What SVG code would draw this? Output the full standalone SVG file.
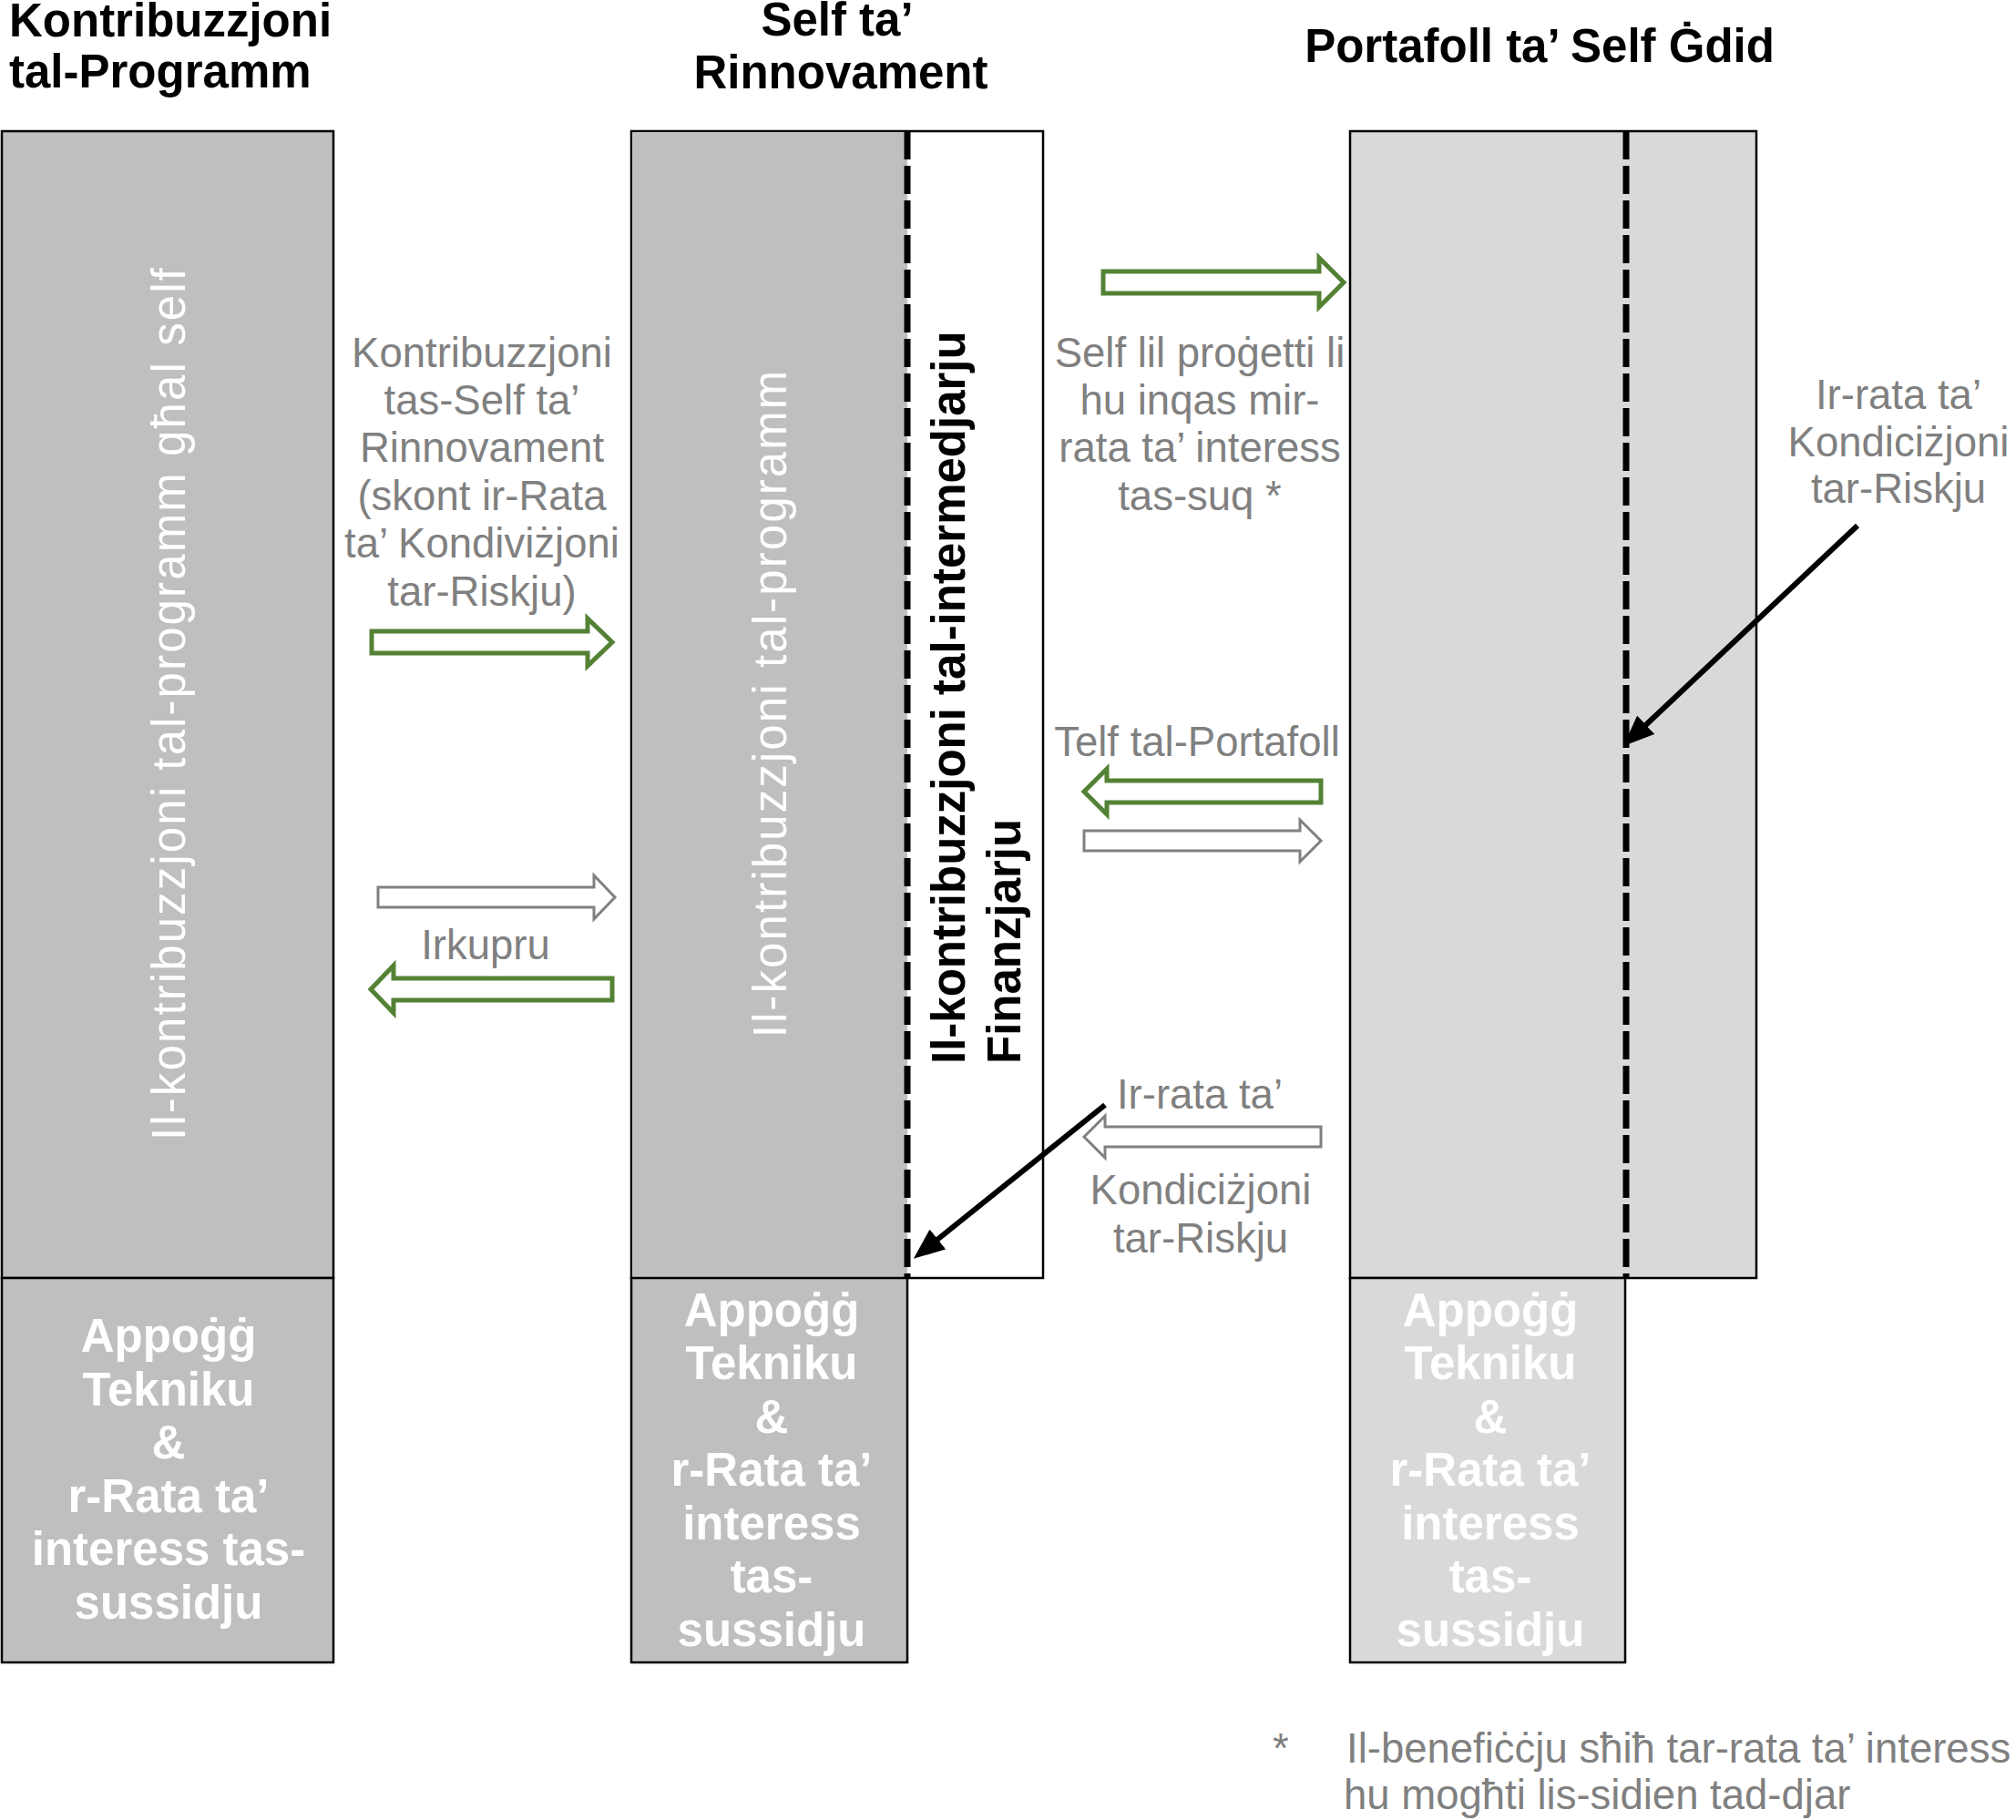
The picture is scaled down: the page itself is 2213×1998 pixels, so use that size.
<svg xmlns="http://www.w3.org/2000/svg" width="2213" height="1998" viewBox="0 0 2213 1998">
<defs>
<style>
.title{font-family:"Liberation Sans",Arial,sans-serif;font-weight:bold;font-size:51px;fill:#000}
.box{stroke:#000;stroke-width:2.5}
.dark{fill:#bfbfbf}
.light{fill:#d9d9d9}
.white{fill:#fff}
.vw{font-family:"Liberation Sans",Arial,sans-serif;font-size:51px;fill:#fff;letter-spacing:2.1px}
.vb{font-family:"Liberation Sans",Arial,sans-serif;font-weight:bold;font-size:51px;fill:#000}
.bt{font-family:"Liberation Sans",Arial,sans-serif;font-weight:bold;font-size:51px;fill:#fff;text-anchor:middle}
.gt{font-family:"Liberation Sans",Arial,sans-serif;font-size:45.5px;fill:#808080;text-anchor:middle}
.ft{font-family:"Liberation Sans",Arial,sans-serif;font-size:45.5px;fill:#808080}
.dash{stroke:#000;stroke-width:7;stroke-dasharray:31 7;fill:none}
.ga{fill:#fff;stroke:#548235;stroke-width:5}
.ya{fill:#fff;stroke:#808080;stroke-width:3}
.ln{stroke:#000;stroke-width:6;fill:none}
</style>
<marker id="ah" markerUnits="userSpaceOnUse" viewBox="0 0 34 28" refX="12" refY="14" markerWidth="34" markerHeight="28" orient="auto">
<path d="M0,0 L34,14 L0,28 z" fill="#000"/>
</marker>
</defs>
<rect width="2213" height="1998" fill="#fff"/>

<g id="titles">
<text class="title" x="10" y="40">Kontribuzzjoni</text>
<text class="title" x="10" y="96">tal-Programm</text>
<text class="title" x="919" y="39" text-anchor="middle">Self ta’</text>
<text class="title" x="923" y="97" text-anchor="middle">Rinnovament</text>
<text class="title" x="1690" y="68" text-anchor="middle">Portafoll ta’ Self Ġdid</text>
</g>

<g id="node-left">
<rect class="box dark" x="2" y="144" width="364" height="1259"/>
<text class="vw" transform="translate(203,772) rotate(-90)" text-anchor="middle">Il-kontribuzzjoni tal-programm għal self</text>
</g>
<g id="node-left-bottom">
<rect class="box dark" x="2" y="1403" width="364" height="422"/>
<text class="bt" x="185" y="1484">Appoġġ</text>
<text class="bt" x="185" y="1543">Tekniku</text>
<text class="bt" x="185" y="1601">&amp;</text>
<text class="bt" x="185" y="1660">r-Rata ta’</text>
<text class="bt" x="185" y="1718">interess tas-</text>
<text class="bt" x="185" y="1777">sussidju</text>
</g>

<g id="node-middle">
<rect class="box white" x="693" y="144" width="452" height="1259"/>
<rect class="dark" x="694.5" y="145.5" width="301.5" height="1256"/>
<line class="dash" x1="996" y1="144" x2="996" y2="1403"/>
<text class="vw" transform="translate(863,772) rotate(-90)" text-anchor="middle">Il-kontribuzzjoni tal-programm</text>
<text class="vb" transform="translate(1059,1168) rotate(-90)">Il-kontribuzzjoni tal-intermedjarju</text>
<text class="vb" transform="translate(1120,1168) rotate(-90)">Finanzjarju</text>
</g>
<g id="node-middle-bottom">
<rect class="box dark" x="693" y="1403" width="303" height="422"/>
<text class="bt" x="847" y="1456">Appoġġ</text>
<text class="bt" x="847" y="1514">Tekniku</text>
<text class="bt" x="847" y="1573">&amp;</text>
<text class="bt" x="847" y="1631">r-Rata ta’</text>
<text class="bt" x="847" y="1690">interess</text>
<text class="bt" x="847" y="1748">tas-</text>
<text class="bt" x="847" y="1807">sussidju</text>
</g>

<g id="node-right">
<rect class="box light" x="1482" y="144" width="446" height="1259"/>
<line class="dash" x1="1785" y1="144" x2="1785" y2="1403"/>
</g>
<g id="node-right-bottom">
<rect class="box light" x="1482" y="1403" width="302" height="422"/>
<text class="bt" x="1636" y="1456">Appoġġ</text>
<text class="bt" x="1636" y="1514">Tekniku</text>
<text class="bt" x="1636" y="1573">&amp;</text>
<text class="bt" x="1636" y="1631">r-Rata ta’</text>
<text class="bt" x="1636" y="1690">interess</text>
<text class="bt" x="1636" y="1748">tas-</text>
<text class="bt" x="1636" y="1807">sussidju</text>
</g>

<g id="connectors">
<polygon class="ga" points="408,693 645,693 645,679 672,705 645,731 645,717 408,717"/>
<polygon class="ya" points="415,974 652,974 652,961 675,985 652,1009 652,996 415,996"/>
<polygon class="ga" points="407,1086 432,1060 432,1074 672,1074 672,1098 432,1098 432,1112"/>
<polygon class="ga" points="1211,298 1448,298 1448,283 1475,310 1448,337 1448,322 1211,322"/>
<polygon class="ga" points="1190,869 1215,844 1215,857 1450,857 1450,881 1215,881 1215,894"/>
<polygon class="ya" points="1190,912 1427,912 1427,900 1450,923 1427,946 1427,934 1190,934"/>
<polygon class="ya" points="1190,1248 1213,1225 1213,1237 1450,1237 1450,1259 1213,1259 1213,1271"/>
<line class="ln" x1="1213" y1="1213" x2="1020" y2="1368" marker-end="url(#ah)"/>
<line class="ln" x1="2039" y1="577" x2="1798" y2="804" marker-end="url(#ah)"/>
</g>

<g id="labels">
<text class="gt" x="529" y="403">Kontribuzzjoni</text>
<text class="gt" x="529" y="455">tas-Self ta’</text>
<text class="gt" x="529" y="507">Rinnovament</text>
<text class="gt" x="529" y="560">(skont ir-Rata</text>
<text class="gt" x="529" y="612">ta’ Kondiviżjoni</text>
<text class="gt" x="529" y="665">tar-Riskju)</text>
<text class="gt" x="533" y="1053">Irkupru</text>
<text class="gt" x="1317" y="403">Self lil proġetti li</text>
<text class="gt" x="1317" y="455">hu inqas mir-</text>
<text class="gt" x="1317" y="507">rata ta’ interess</text>
<text class="gt" x="1317" y="560">tas-suq *</text>
<text class="gt" x="1314" y="830">Telf tal-Portafoll</text>
<text class="gt" x="1317" y="1217">Ir-rata ta’</text>
<text class="gt" x="1318" y="1322">Kondiciżjoni</text>
<text class="gt" x="1318" y="1375">tar-Riskju</text>
<text class="gt" x="2084" y="449">Ir-rata ta’</text>
<text class="gt" x="2084" y="501">Kondiciżjoni</text>
<text class="gt" x="2084" y="552">tar-Riskju</text>
<text class="ft" x="1397" y="1935">*</text>
<text class="ft" x="1478" y="1935">Il-benefiċċju sħiħ tar-rata ta’ interess</text>
<text class="ft" x="1475" y="1986">hu mogħti lis-sidien tad-djar</text>
</g>
</svg>
